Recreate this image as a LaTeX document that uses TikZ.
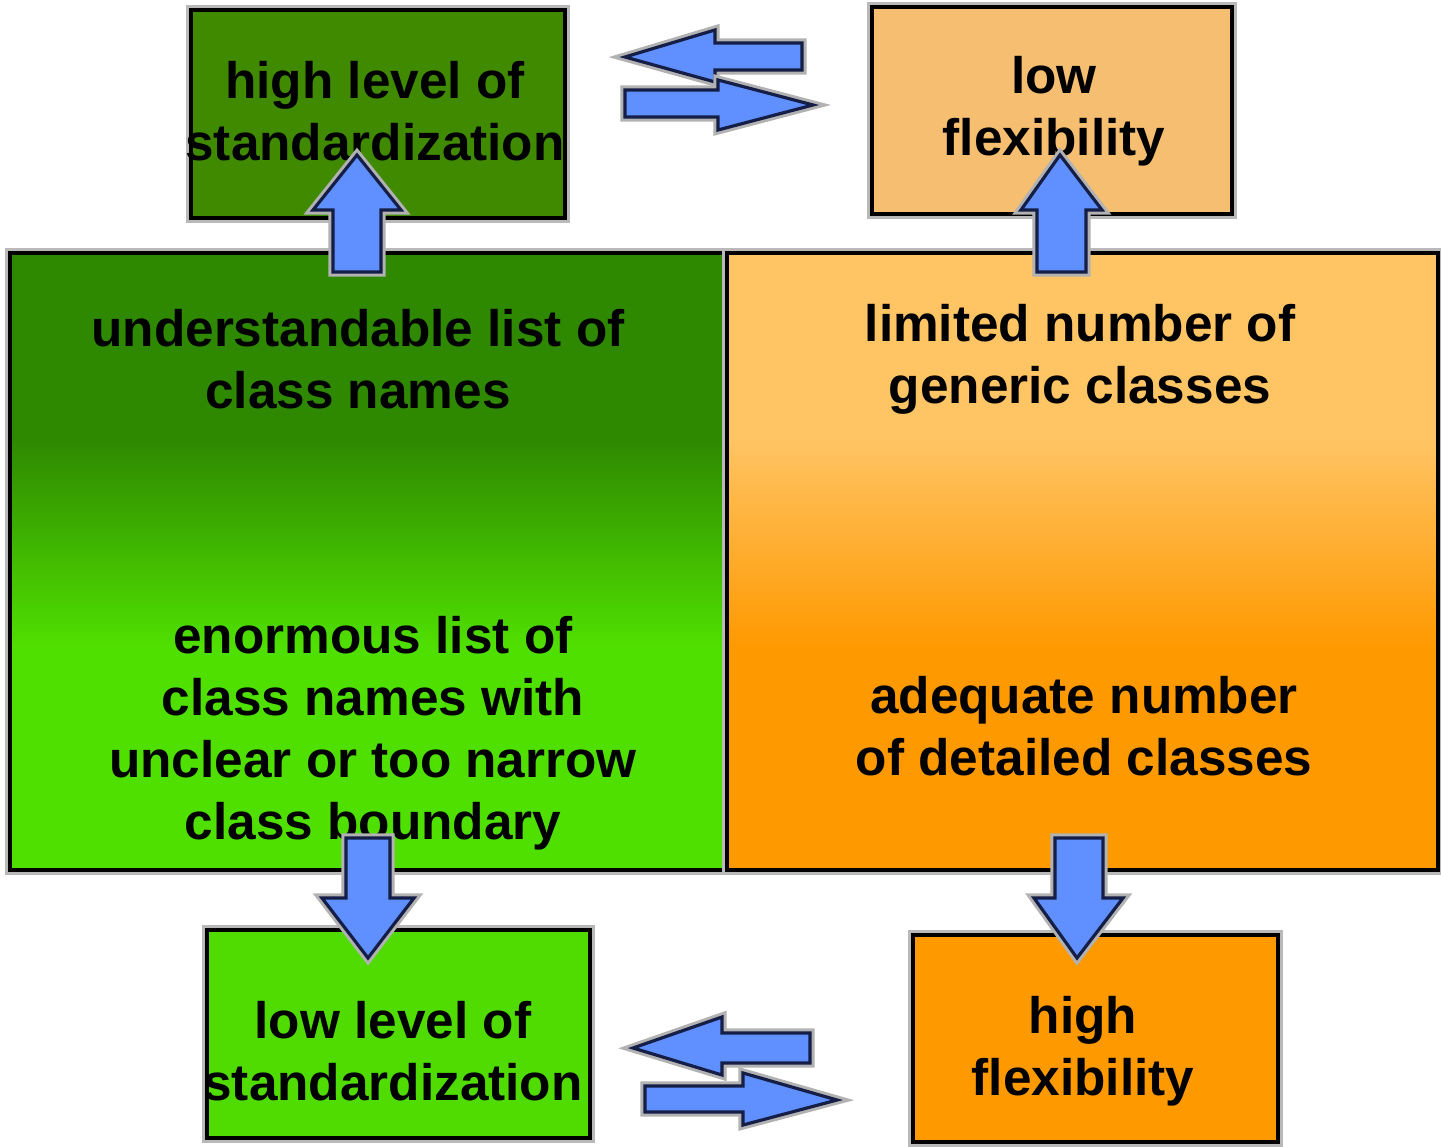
\documentclass[tikz,border=0pt]{standalone}
\usepackage{fontspec}
\setmainfont{Liberation Sans}

\definecolor{stdhigh}{RGB}{64,138,0}
\definecolor{flexlow}{RGB}{245,190,112}
\definecolor{greentop}{RGB}{46,136,0}
\definecolor{greenbot}{RGB}{80,224,0}
\definecolor{orangetop}{RGB}{255,196,100}
\definecolor{orangebot}{RGB}{255,153,0}
\definecolor{stdlow}{RGB}{80,220,0}
\definecolor{flexhigh}{RGB}{255,153,0}
\definecolor{arrowblue}{RGB}{96,144,255}
\definecolor{arrowedge}{RGB}{20,30,70}

% panel fades (path covers 25bp..75bp): blend only in the middle band
\pgfdeclareverticalshading{greenfade}{100bp}{color(0bp)=(greenbot); color(43bp)=(greenbot);
	color(60bp)=(greentop); color(100bp)=(greentop)}
\pgfdeclareverticalshading{orangefade}{100bp}{color(0bp)=(orangebot); color(43bp)=(orangebot);
	color(60bp)=(orangetop); color(100bp)=(orangetop)}

\begin{document}
\begin{tikzpicture}
	[box/.style={draw=black, line width=0.9pt, inner sep=0pt,
		preaction={draw=gray!55, line width=2.8pt}},
	boxtext/.style={align=center, font=\fontsize{14.6}{17.6}\selectfont\bfseries},
	barrow/.style={fill=arrowblue, draw=arrowedge, line width=0.9pt,
		preaction={draw=gray!60, line width=2.6pt}}]
	\useasboundingbox (0,0) rectangle (14.41,11.46);

	% two big panels
	\node[box, shade, shading=greenfade,
		minimum width=7.17cm, minimum height=6.17cm] (green) at (3.685,5.845) {};
	\node[box, shade, shading=orangefade,
		minimum width=7.11cm, minimum height=6.17cm] (orange) at (10.825,5.845) {};

	% outcome boxes
	\node[box, fill=stdhigh, minimum width=3.74cm, minimum height=2.08cm] (hstd) at (3.78,10.32) {};
	\node[box, fill=flexlow, minimum width=3.60cm, minimum height=2.07cm] (lflex) at (10.52,10.355) {};
	\node[box, fill=stdlow, minimum width=3.83cm, minimum height=2.08cm] (lstd) at (3.985,1.12) {};
	\node[box, fill=flexhigh, minimum width=3.65cm, minimum height=2.07cm] (hflex) at (10.955,1.075) {};

	% texts
	\node[boxtext] (hstdtxt) at (3.75,10.35) {high level of\\standardization};
	\node[boxtext] (lflextxt) at (10.54,10.35) {low\\flexibility};
	\node[boxtext] (greentop) at (3.58,7.87) {understandable list of\\class names};
	\node[boxtext] (greenbot) at (3.73,4.13) {enormous list of\\class names with\\unclear or too narrow\\class boundary};
	\node[boxtext] (orangetop) at (10.80,7.87) {limited number of\\generic classes};
	\node[boxtext] (orangebot) at (10.84,4.20) {adequate number\\of detailed classes};
	\node[boxtext] (lstdtxt) at (3.93,0.945) {low level of\\standardization};
	\node[boxtext] (hflextxt) at (10.83,0.945) {high\\flexibility};

	% up arrows
	\draw[barrow] (3.33,8.74) -- (3.33,9.36) -- (3.13,9.36) -- (3.57,9.91) -- (4.01,9.36) -- (3.81,9.36) -- (3.81,8.74) -- cycle;
	\draw[barrow] (10.37,8.74) -- (10.37,9.36) -- (10.21,9.36) -- (10.60,9.91) -- (11.02,9.36) -- (10.86,9.36) -- (10.86,8.74) -- cycle;
	% down arrows
	\draw[barrow] (3.46,3.08) -- (3.46,2.48) -- (3.22,2.48) -- (3.68,1.88) -- (4.14,2.48) -- (3.90,2.48) -- (3.90,3.08) -- cycle;
	\draw[barrow] (10.55,3.08) -- (10.55,2.48) -- (10.34,2.48) -- (10.77,1.88) -- (11.23,2.48) -- (11.03,2.48) -- (11.03,3.08) -- cycle;
	% trade-off arrows, top
	\draw[barrow] (6.25,10.89) -- (7.15,11.16) -- (7.15,11.03) -- (8.02,11.03) -- (8.02,10.76) -- (7.15,10.76) -- (7.15,10.64) -- cycle;
	\draw[barrow] (8.13,10.41) -- (7.18,10.66) -- (7.18,10.56) -- (6.25,10.56) -- (6.25,10.29) -- (7.18,10.29) -- (7.18,10.16) -- cycle;
	% trade-off arrows, bottom
	\draw[barrow] (6.33,0.98) -- (7.22,1.29) -- (7.22,1.13) -- (8.10,1.13) -- (8.10,0.83) -- (7.22,0.83) -- (7.22,0.71) -- cycle;
	\draw[barrow] (8.37,0.46) -- (7.43,0.73) -- (7.43,0.60) -- (6.45,0.60) -- (6.45,0.34) -- (7.43,0.34) -- (7.43,0.21) -- cycle;
\end{tikzpicture}
\end{document}
